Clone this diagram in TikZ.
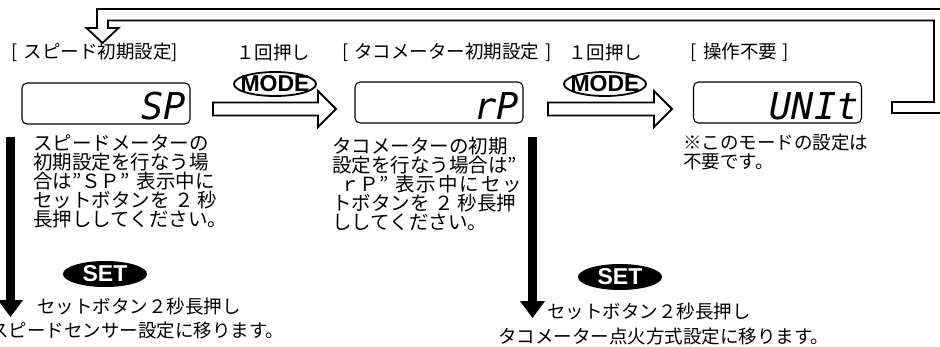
\documentclass[tikz,border=0pt]{standalone}
\usepackage{fontspec}
\usetikzlibrary{shapes.geometric,arrows.meta}
\setmainfont{Noto Sans CJK JP}
\newfontfamily\lsans{Liberation Sans}
\newfontfamily\segfont{DejaVu Sans Mono}
\begin{document}
\begin{tikzpicture}[x=1pt,y=-1pt,
  lbl/.style={inner sep=0pt, font=\fontsize{18.5}{18.5}\selectfont},
  body/.style={inner sep=0pt, align=left, anchor=north west, font=\fontsize{19.5}{19}\selectfont},
  note/.style={inner sep=0pt, align=left, anchor=north west, font=\fontsize{18.5}{19}\selectfont},
  line/.style={inner sep=0pt, anchor=west, font=\fontsize{18.5}{18.5}\selectfont},
  lcd/.style={draw, rounded corners=5pt, line width=1.1pt, minimum width=168pt, minimum height=41pt, inner sep=0pt},
  segtxt/.style={inner sep=0pt, anchor=east, font=\segfont\itshape\fontsize{37}{37}\selectfont},
  modeov/.style={ellipse, draw, line width=1.8pt, fill=white, minimum width=82pt, minimum height=24pt, inner sep=0pt},
  modetxt/.style={inner sep=0pt, font=\lsans\bfseries\fontsize{23}{23}\selectfont},
  setov/.style={ellipse, fill=black, minimum width=84pt, minimum height=26pt, inner sep=0pt},
  settxt/.style={inner sep=0pt, text=white, font=\lsans\bfseries\fontsize{23}{23}\selectfont},
  hollow/.style={draw, line width=1.8pt, fill=white, line join=miter},
  downarr/.style={line width=9.5pt, -{Triangle[length=17pt,width=24pt]}}
]
\useasboundingbox (0,0) rectangle (940,346);
\clip (0,0) rectangle (940,346);

% return arrow
\draw[hollow] (950,113) -- (892,113) -- (892,102) -- (934,102) -- (934,20.5) -- (108,20.5) -- (108,28) -- (118.5,28) -- (102.5,43) -- (86.5,28) -- (97,28) -- (97,9) -- (950,9);

% top labels
\node[lbl] (l1) at (95,52) {[\hspace{6pt}スピード初期設定]};
\node[lbl] (p1) at (273,52) {１回押し};
\node[lbl] (l2) at (447,52) {[\hspace{6pt}タコメーター初期設定\hspace{6pt}]};
\node[lbl] (p2) at (605,52) {１回押し};
\node[lbl] (l3) at (740,52) {[\hspace{6pt}操作不要\hspace{6pt}]};

% LCD boxes
\node[lcd] (b1) at (106,103.5) {};
\node[lcd] (b2) at (439,102.5) {};
\node[lcd] (b3) at (777.5,102.5) {};
\node[segtxt] (s1) at (186,106.5) {SP};
\node[segtxt] (s2) at (519,106) {rP};
\node[segtxt] (s3) at (859,106) {UNIt};

% hollow arrows
\draw[hollow] (213,102.5) -- (318,102.5) -- (318,91) -- (336,109) -- (318,127) -- (318,115.5) -- (213,115.5) -- cycle;
\draw[hollow] (548,102.5) -- (654,102.5) -- (654,91) -- (672,109) -- (654,127) -- (654,115.5) -- (548,115.5) -- cycle;

% MODE buttons
\node[modeov] (m1) at (275,84) {};
\node[modetxt] at (m1) {MODE};
\node[modeov] (m2) at (605,84) {};
\node[modetxt] at (m2) {MODE};

% description texts
\node[body] (t1) at (33,134) {スピードメーターの\\初期設定を行なう場\\合は”ＳＰ”\hspace{7pt}表示中に\\セットボタンを ２ 秒\\長押ししてください。};
\node[body] (t2) at (332,137) {タコメーターの初期\\設定を行なう場合は”\\\hspace{8pt}ｒＰ”\hspace{7pt}表\hspace{2pt}示\hspace{2pt}中\hspace{2pt}に\hspace{2pt}セ\hspace{2pt}ッ\\トボタンを ２ 秒長押\\ししてください。};
\node[note] (t3) at (683,134) {※このモードの設定は\\不要です。};

% down arrows
\coordinate (d1s) at (10.5,137);
\coordinate (d1e) at (10.5,317);
\draw[downarr] (d1s) -- (d1e);
\coordinate (d2s) at (532.5,137);
\coordinate (d2e) at (532.5,318);
\draw[downarr] (d2s) -- (d2e);

% SET buttons
\node[setov] (e1) at (105,274) {};
\node[settxt] at (e1) {SET};
\node[setov] (e2) at (620,277) {};
\node[settxt] at (e2) {SET};

% bottom texts
\node[line] (c1) at (37,306) {セットボタン２秒長押し};
\node[line] (r1) at (-10,331) {スピードセンサー設定に移ります。};
\node[line] (c2) at (547,311) {セットボタン２秒長押し};
\node[line] (r2) at (498,336) {タコメーター点火方式設定に移ります。};
\end{tikzpicture}
\end{document}
